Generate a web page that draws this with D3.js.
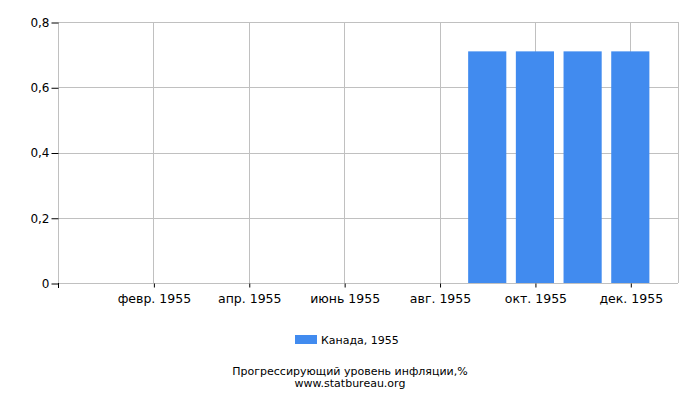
<!DOCTYPE html>
<html>
<head>
<meta charset="utf-8">
<script src="https://cdn.jsdelivr.net/npm/d3@7"></script>
<style>
  body { margin: 0; background: #fff; }
  text { font-family: "DejaVu Sans", sans-serif; fill: #000; }
</style>
</head>
<body>
<svg id="chart" width="700" height="400"></svg>
<script>
// months of 1955 and inflation values (only Sep-Dec have data)
var months = ["янв. 1955", "февр. 1955", "март 1955", "апр. 1955", "май 1955", "июнь 1955",
    "июль 1955", "авг. 1955", "сент. 1955", "окт. 1955", "нояб. 1955", "дек. 1955"]
var values = [null, null, null, null, null, null, null, null, 0.71, 0.71, 0.71, 0.71]
var yTicks = [0, 0.2, 0.4, 0.6, 0.8]
var shownLabels = ["февр. 1955", "апр. 1955", "июнь 1955", "авг. 1955", "окт. 1955", "дек. 1955"]
var seriesName = "Канада, 1955"

// note: "top" is reserved on window, so use plot* names
var plotLeft = 58, plotRight = 678, plotTop = 22, plotBottom = 283
var barColor = "#418bef"

var svg = d3.select("#chart")

var x = d3.scalePoint().domain(months).range([plotLeft, plotRight]).padding(1)
var y = d3.scaleLinear().domain([0, 0.8]).range([plotBottom, plotTop])
var fmt = d => d === 0 ? "0" : d3.format(".1f")(d).replace(".", ",")

// grid
var grid = svg.append("g").attr("stroke", "#c0c0c0").attr("stroke-width", 1)
yTicks.forEach(t => {
    grid.append("line").attr("x1", plotLeft).attr("x2", plotRight)
        .attr("y1", Math.round(y(t)) + 0.5).attr("y2", Math.round(y(t)) + 0.5)
})
shownLabels.forEach(m => {
    grid.append("line").attr("x1", Math.round(x(m)) + 0.5).attr("x2", Math.round(x(m)) + 0.5)
        .attr("y1", plotTop).attr("y2", plotBottom)
})
grid.append("line").attr("x1", plotLeft + 0.5).attr("x2", plotLeft + 0.5).attr("y1", plotTop).attr("y2", plotBottom)
grid.append("line").attr("x1", plotRight + 0.5).attr("x2", plotRight + 0.5).attr("y1", plotTop).attr("y2", plotBottom)

// bars
var bw = x.step() * 0.8
svg.append("g").selectAll("rect")
    .data(months.map((m, i) => ({ m: m, v: values[i] })).filter(d => d.v != null))
    .enter().append("rect")
    .attr("x", d => x(d.m) - bw / 2)
    .attr("y", d => y(d.v))
    .attr("width", bw)
    .attr("height", d => y(0) - y(d.v))
    .attr("fill", barColor)

// y axis
var yAxis = svg.append("g").attr("transform", "translate(" + (plotLeft + 0.5) + ",0.5)")
    .call(d3.axisLeft(y).tickValues(yTicks).tickFormat(fmt).tickSize(7).tickPadding(2))
yAxis.select(".domain").remove()
yAxis.selectAll("text").style("font-size", "12px")

// x axis
var xAxis = svg.append("g").attr("transform", "translate(0.5," + (plotBottom + 0.5) + ")")
    .call(d3.axisBottom(x).tickValues(shownLabels).tickSize(4).tickPadding(7))
xAxis.select(".domain").attr("stroke", "#c0c0c0").attr("d", "M" + (plotLeft - 0.5) + ",0H" + (plotRight - 0.5))
xAxis.selectAll("text").style("font-size", "12.5px")
svg.append("line").attr("x1", plotLeft + 0.5).attr("x2", plotLeft + 0.5)
    .attr("y1", plotBottom).attr("y2", plotBottom + 5).attr("stroke", "#000")

// legend
svg.append("rect").attr("x", 295).attr("y", 335).attr("width", 22).attr("height", 9).attr("fill", barColor)
svg.append("text").attr("x", 321).attr("y", 344).style("font-size", "11px").text(seriesName)

// caption
svg.append("text").attr("x", 350).attr("y", 375).attr("text-anchor", "middle")
    .style("font-size", "11px").text("Прогрессирующий уровень инфляции,%")
svg.append("text").attr("x", 350).attr("y", 386.5).attr("text-anchor", "middle")
    .style("font-size", "11px").text("www.statbureau.org")
</script>
</body>
</html>
